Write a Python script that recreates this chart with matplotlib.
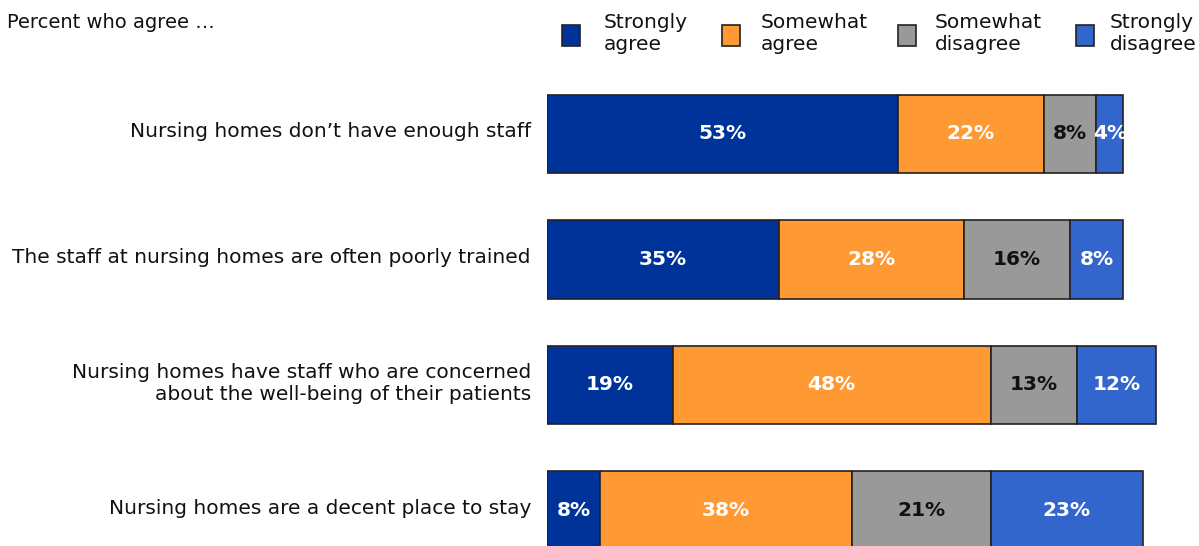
import matplotlib.pyplot as plt
from matplotlib.patches import Rectangle
import numpy as np

categories = ["Nursing homes don\u2019t have enough staff",
              "The staff at nursing homes are often poorly trained",
              "Nursing homes have staff who are concerned\nabout the well-being of their patients",
              "Nursing homes are a decent place to stay"]
strongly_agree = [53, 35, 19, 8]
somewhat_agree = [22, 28, 48, 38]
somewhat_disagree = [8, 16, 13, 21]
strongly_disagree = [4, 8, 12, 23]
series_names = ["Strongly\nagree", "Somewhat\nagree", "Somewhat\ndisagree", "Strongly\ndisagree"]

colors = ["#003399", "#FF9933", "#999999", "#3366CC"]
text_colors = ["white", "white", "#111111", "white"]

W, H = 1199, 546
fig = plt.figure(figsize=(W / 100, H / 100), dpi=100)
plt.rcParams['font.family'] = ['DejaVu Sans']

# axes placed so bars start at x=547px, 6.62 px per percent
x0 = 547
ppu = 6.62
ax = fig.add_axes([x0 / W, 0, (W - x0) / W, 1])
ax.set_xlim(0, (W - x0) / ppu)
spacing = 125.5
c0 = 134
ax.set_ylim((H - c0) / spacing, -c0 / spacing)
ax.axis("off")

y = np.arange(len(categories))
series = [strongly_agree, somewhat_agree, somewhat_disagree, strongly_disagree]
left = np.zeros(len(categories))
for vals, col, tcol in zip(series, colors, text_colors):
    bars = ax.barh(y, vals, left=left, height=78 / spacing, color=col,
                   edgecolor="#222222", linewidth=1.2)
    for b, v in zip(bars, vals):
        t = ax.text(b.get_x() + b.get_width() / 2, b.get_y() + b.get_height() / 2,
                    f"{v}%", ha="center", va="center", color=tcol,
                    fontsize=14.5, fontweight="bold")
        t.set_clip_path(b)
    left += np.array(vals)

for yi, cat in zip(y, categories):
    ax.text(-16 / ppu, yi - 2 / spacing, cat, ha="right", va="center", fontsize=14.5,
            color="#111111", linespacing=1.2)

fig.text(7 / W, 1 - 22 / H, "Percent who agree \u2026", ha="left", va="center",
         fontsize=14, color="#111111")

sq_x = [562, 722, 898, 1076]
tx_x = [604, 761, 935, 1110]
for sx, tx, name, col in zip(sq_x, tx_x, series_names, colors):
    fig.patches.append(Rectangle((sx / W, 1 - 46 / H), 18 / W, 21 / H,
                                 transform=fig.transFigure, facecolor=col,
                                 edgecolor="#222222", linewidth=1.2))
    fig.text(tx / W, 1 - 34 / H, name, ha="left", va="center", fontsize=14.5,
             color="#111111", linespacing=1.2)

fig.savefig("out.png", dpi=100)
